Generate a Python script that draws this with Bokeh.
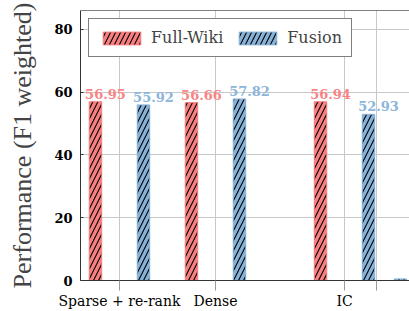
from bokeh.plotting import figure
from bokeh.models import ColumnDataSource, Range1d, FixedTicker, Span, Legend, LegendItem
from bokeh.core.properties import value
from bokeh.embed import file_html
from bokeh.resources import INLINE

categories = ["Sparse + re-rank", "Dense", "IC", ""]
full_wiki = [56.95, 56.66, 56.94, float("nan")]
fusion = [55.92, 57.82, 52.93, 0.5]
y_ticks = [0, 20, 40, 60, 80]

# layout (group centre positions on the x axis, in axis units)
group_pos = [0.0, 1.0, 2.344, 2.677]
offset = 0.25
bar_w = 0.13

RED = "#F77F7F"
BLUE = "#87B2D8"
RED_T = "#F88585"
BLUE_T = "#8CB5DC"

p = figure(width=409, height=311, output_backend="svg", toolbar_location=None,
           x_range=Range1d(-0.406, 3.021), y_range=Range1d(0, 86),
           min_border_left=80, min_border_right=0, min_border_top=10, min_border_bottom=29)
p.outline_line_color = None
p.background_fill_color = "white"


def fmt(v):
    return "%.2f" % v if v == v and v > 1 else ""


src_r = ColumnDataSource(dict(x=[g - offset for g in group_pos], top=full_wiki,
                              lab=[fmt(v) for v in full_wiki]))
src_b = ColumnDataSource(dict(x=[g + offset for g in group_pos], top=fusion,
                              lab=[fmt(v) for v in fusion]))

r1 = p.vbar(x="x", top="top", bottom=0, width=bar_w, source=src_r, fill_color=RED, line_color=RED,
            line_width=1, hatch_pattern="/", hatch_color="black", hatch_scale=10, hatch_weight=1.1)
r2 = p.vbar(x="x", top="top", bottom=0, width=bar_w, source=src_b, fill_color=BLUE, line_color=BLUE,
            line_width=1, hatch_pattern="/", hatch_color="black", hatch_scale=10, hatch_weight=1.1)

for src, col in ((src_r, RED_T), (src_b, BLUE_T)):
    p.text(x="x", y="top", text="lab", source=src, text_font=value("DejaVu Serif"),
           text_font_style="bold", text_font_size="13px", text_color=col,
           text_align="center", text_baseline="alphabetic", x_offset=10, y_offset=-8)

# top border
p.add_layout(Span(location=86, dimension="width", line_color="black", line_width=1))

# grids
p.xgrid.ticker = FixedTicker(ticks=group_pos)
p.ygrid.ticker = FixedTicker(ticks=y_ticks)
for g in (p.xgrid[0], p.ygrid[0]):
    g.grid_line_color = "#C8C8C8"
    g.grid_line_width = 1

# x axis
xa = p.xaxis[0]
xa.ticker = FixedTicker(ticks=group_pos)
xa.major_label_overrides = {pos: lab for pos, lab in zip(group_pos, categories)}
xa.major_label_text_font = "DejaVu Serif"
xa.major_label_text_font_size = "14px"
xa.major_label_text_color = "black"
xa.major_label_standoff = 2
xa.major_tick_out = 10
xa.major_tick_in = 0
xa.major_tick_line_color = "#9A9A9A"
xa.minor_tick_line_color = None
xa.axis_line_color = "#333333"

# y axis
ya = p.yaxis[0]
ya.ticker = FixedTicker(ticks=y_ticks)
ya.major_label_text_font = "DejaVu Serif"
ya.major_label_text_font_style = "bold"
ya.major_label_text_font_size = "13px"
ya.major_label_text_color = "black"
ya.major_label_standoff = 8
ya.major_tick_in = 3
ya.major_tick_out = 0
ya.major_tick_line_color = "#333333"
ya.minor_tick_line_color = None
ya.axis_line_color = "#333333"
ya.axis_label = "Performance (F1 weighted)"
ya.axis_label_text_font = "Liberation Serif"
ya.axis_label_text_font_style = "normal"
ya.axis_label_text_font_size = "26px"
ya.axis_label_standoff = 14

legend = Legend(items=[LegendItem(label="Full-Wiki", renderers=[r1]),
                       LegendItem(label="Fusion", renderers=[r2])],
                orientation="horizontal", location="top_left")
legend.label_text_font = "DejaVu Serif"
legend.label_text_font_size = "16px"
legend.label_standoff = 6
legend.spacing = 11
legend.padding = 9
legend.margin = 8
legend.glyph_width = 47
legend.glyph_height = 16
legend.label_height = 16
legend.border_line_color = "black"
legend.border_line_width = 1
legend.background_fill_alpha = 1
p.add_layout(legend, "center")

open("out.html", "w").write(file_html(p, INLINE))
